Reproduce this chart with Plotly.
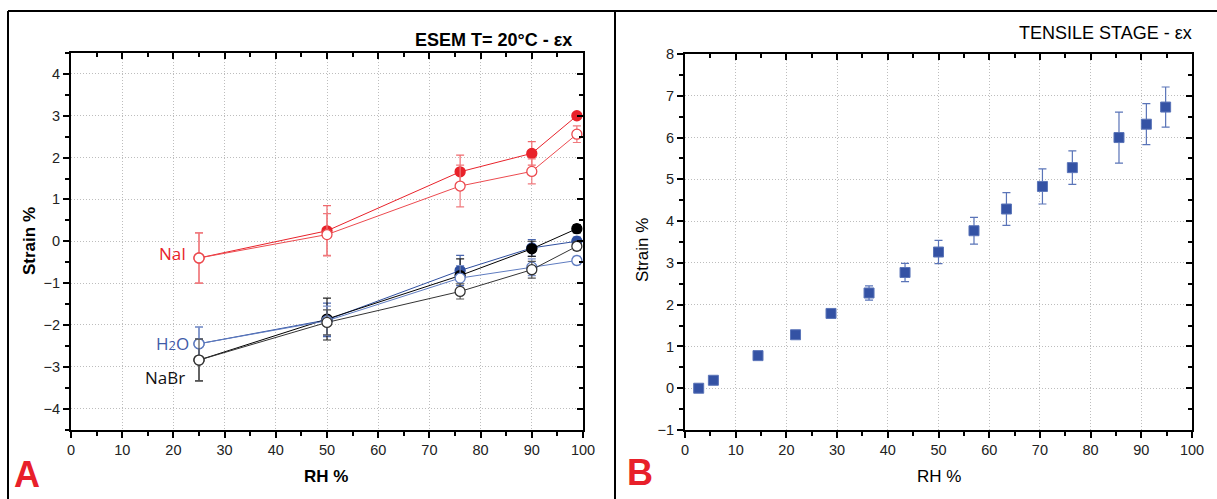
import plotly.graph_objects as go

W, H = 1217, 499

# ---------------- data: panel A (ESEM) ----------------
rh_esem = [25, 50, 76, 90, 98.8]
nai_filled = [-0.40, 0.25, 1.66, 2.10, 3.00]
nai_filled_err = [0.60, 0.60, 0.40, 0.28, 0.05]
nai_open = [-0.40, 0.16, 1.32, 1.67, 2.56]
nai_open_err = [0.60, 0.50, 0.50, 0.30, 0.20]
h2o_filled = [-2.45, -1.88, -0.70, -0.16, 0.00]
h2o_filled_err = [0.40, 0.40, 0.36, 0.20, 0.10]
h2o_open = [-2.45, -1.90, -0.88, -0.62, -0.46]
h2o_open_err = [0.40, 0.35, 0.30, 0.20, 0.10]
nabr_filled = [-2.84, -1.86, -0.82, -0.18, 0.30]
nabr_filled_err = [0.50, 0.50, 0.40, 0.18, 0.10]
nabr_open = [-2.84, -1.94, -1.20, -0.68, -0.12]
nabr_open_err = [0.50, 0.30, 0.18, 0.20, 0.10]

# ---------------- data: panel B (tensile stage) ----------------
rh_tensile = [2.7, 5.6, 14.4, 21.8, 28.8, 36.3, 43.4, 50.0, 57.0, 63.4, 70.5, 76.4, 85.6, 91.0, 94.8]
strain_tensile = [0.00, 0.19, 0.78, 1.28, 1.79, 2.28, 2.77, 3.26, 3.77, 4.29, 4.83, 5.28, 6.00, 6.32, 6.73]
strain_tensile_err = [0.00, 0.06, 0.04, 0.08, 0.07, 0.17, 0.22, 0.28, 0.32, 0.39, 0.42, 0.40, 0.61, 0.49, 0.48]

x_ticks = list(range(0, 101, 10))
yA_ticks = list(range(-4, 5))
yB_ticks = list(range(-1, 9))


def px(x):
    return x / W


def py(y):
    return 1 - y / H


FONT = "Liberation Sans, Arial, sans-serif"
TICKFONT = dict(family=FONT, size=14.5, color="#222")

fig = go.Figure()


def add_series(x, y, err, color, ecolor, filled, name):
    fig.add_trace(go.Scatter(
        x=x, y=y, mode="lines+markers", name=name, showlegend=False,
        line=dict(color=color, width=1),
        marker=dict(symbol="circle", size=10,
                    color=color if filled else "white",
                    line=dict(color=color, width=1.3)),
        error_y=dict(type="data", array=err, color=ecolor, thickness=1.2, width=4),
        xaxis="x", yaxis="y",
    ))


add_series(rh_esem, nai_filled, nai_filled_err, "#e8222a", "#f06a6e", True, "NaI")
add_series(rh_esem, h2o_filled, h2o_filled_err, "#2f4f9f", "#4a66ad", True, "H2O")
add_series(rh_esem, nabr_filled, nabr_filled_err, "#000000", "#222222", True, "NaBr")
add_series(rh_esem, nai_open, nai_open_err, "#ec4a4f", "#f07a7e", False, "NaI open")
add_series(rh_esem, h2o_open, h2o_open_err, "#5f7cc0", "#7d93cc", False, "H2O open")
add_series(rh_esem, nabr_open, nabr_open_err, "#333333", "#555555", False, "NaBr open")

fig.add_trace(go.Scatter(
    x=rh_tensile, y=strain_tensile, mode="markers", showlegend=False, name="Tensile",
    marker=dict(symbol="square", size=10, color="#3452a4", line=dict(color="#5a74b8", width=1)),
    error_y=dict(type="data", array=strain_tensile_err, color="#5a74b8", thickness=1.2, width=4),
    xaxis="x2", yaxis="y2",
))

# invisible traces so that the mirror (top/right) axes are drawn
fig.add_trace(go.Scatter(x=[None], y=[None], xaxis="x3", yaxis="y3", showlegend=False, hoverinfo="skip"))
fig.add_trace(go.Scatter(x=[None], y=[None], xaxis="x4", yaxis="y4", showlegend=False, hoverinfo="skip"))

domA_x = [px(71), px(583)]
domA_y = [py(429.5), py(53)]
domB_x = [px(685), px(1192)]
domB_y = [py(430), py(54)]

common_main = dict(
    showline=True, linecolor="black", linewidth=2, ticks="outside", ticklen=6, tickwidth=1.5,
    tickcolor="black", showgrid=True, gridcolor="#bdbdbd", griddash="1px,2px", gridwidth=1,
    zeroline=False, tickfont=TICKFONT, automargin=False,
)
common_mirror = dict(
    showline=True, linecolor="black", linewidth=2, ticks="inside", ticklen=6, tickwidth=1.5,
    tickcolor="black", showgrid=False, zeroline=False, showticklabels=False, automargin=False,
)

fig.update_layout(
    width=W, height=H, margin=dict(l=0, r=0, t=0, b=0, pad=0, autoexpand=False),
    paper_bgcolor="white", plot_bgcolor="white",
    xaxis=dict(domain=domA_x, range=[0, 100], tickvals=x_ticks, anchor="y",
               minor=dict(ticks="outside", ticklen=4, dtick=5, tickcolor="black", showgrid=False),
               **common_main),
    yaxis=dict(domain=domA_y, range=[-4.5, 4.5], tickvals=yA_ticks, anchor="x",
               minor=dict(ticks="outside", ticklen=4, dtick=0.5, tickcolor="black", showgrid=False),
               **common_main),
    xaxis3=dict(overlaying="x", side="top", range=[0, 100], tickvals=x_ticks, anchor="y3",
                minor=dict(ticks="inside", ticklen=4, dtick=5, tickcolor="black", showgrid=False),
                **common_mirror),
    yaxis3=dict(overlaying="y", side="right", range=[-4.5, 4.5], tickvals=yA_ticks, anchor="x3",
                minor=dict(ticks="inside", ticklen=4, dtick=0.5, tickcolor="black", showgrid=False),
                **common_mirror),
    xaxis2=dict(domain=domB_x, range=[0, 100], tickvals=x_ticks, anchor="y2",
                minor=dict(ticks="outside", ticklen=4, dtick=5, tickcolor="black", showgrid=False),
                **common_main),
    yaxis2=dict(domain=domB_y, range=[-1, 8], tickvals=yB_ticks, anchor="x2",
                minor=dict(ticks="outside", ticklen=4, dtick=0.5, tickcolor="black", showgrid=False),
                **common_main),
    xaxis4=dict(overlaying="x2", side="top", range=[0, 100], tickvals=x_ticks, anchor="y4",
                minor=dict(ticks="inside", ticklen=4, dtick=5, tickcolor="black", showgrid=False),
                **common_mirror),
    yaxis4=dict(overlaying="y2", side="right", range=[-1, 8], tickvals=yB_ticks, anchor="x4",
                minor=dict(ticks="inside", ticklen=4, dtick=0.5, tickcolor="black", showgrid=False),
                **common_mirror),
)

ann = []


def note(text, x, y, size, color="black", xanchor="center", yanchor="middle", angle=0, family=FONT):
    ann.append(dict(text=text, x=px(x), y=py(y), xref="paper", yref="paper", showarrow=False,
                    xanchor=xanchor, yanchor=yanchor, textangle=angle,
                    font=dict(family=family, size=size, color=color)))


note("<b>ESEM T= 20°C - εx</b>", 574, 40, 18, xanchor="right")
note("TENSILE STAGE - εx", 1194, 33, 18, xanchor="right")
note("<b>Strain %</b>", 30, 241, 17, angle=-90)
note("Strain %", 643, 250, 17, angle=-90)
note("<b>RH %</b>", 326, 476, 17)
note("RH %", 939, 476, 17)
note("<b>A</b>", 27, 474, 36, color="#e8202a", family="Liberation Sans Narrow, Arial Narrow, sans-serif")
note("<b>B</b>", 640, 472, 36, color="#e8202a", family="Liberation Sans Narrow, Arial Narrow, sans-serif")
note("NaI", 172, 254, 17, color="#e8222a", family="Open Sans, sans-serif")
note("H<span style='font-size:13px'>2</span>O", 172, 343, 17, color="#3f5aa8", family="Open Sans, sans-serif")
note("NaBr", 165, 377, 17, color="#111", family="Open Sans, sans-serif")

fig.update_layout(annotations=ann)

# panel frames
frame = dict(type="line", xref="paper", yref="paper", line=dict(color="black", width=2))
fig.update_layout(shapes=[
    dict(frame, x0=px(8), x1=1, y0=py(11), y1=py(11)),
    dict(frame, x0=px(8), x1=px(8), y0=py(11), y1=0),
    dict(frame, x0=px(615), x1=px(615), y0=py(11), y1=0),
])

fig.write_html("out.html", config={"displayModeBar": False},
               post_script="document.body.style.margin='0px';")
